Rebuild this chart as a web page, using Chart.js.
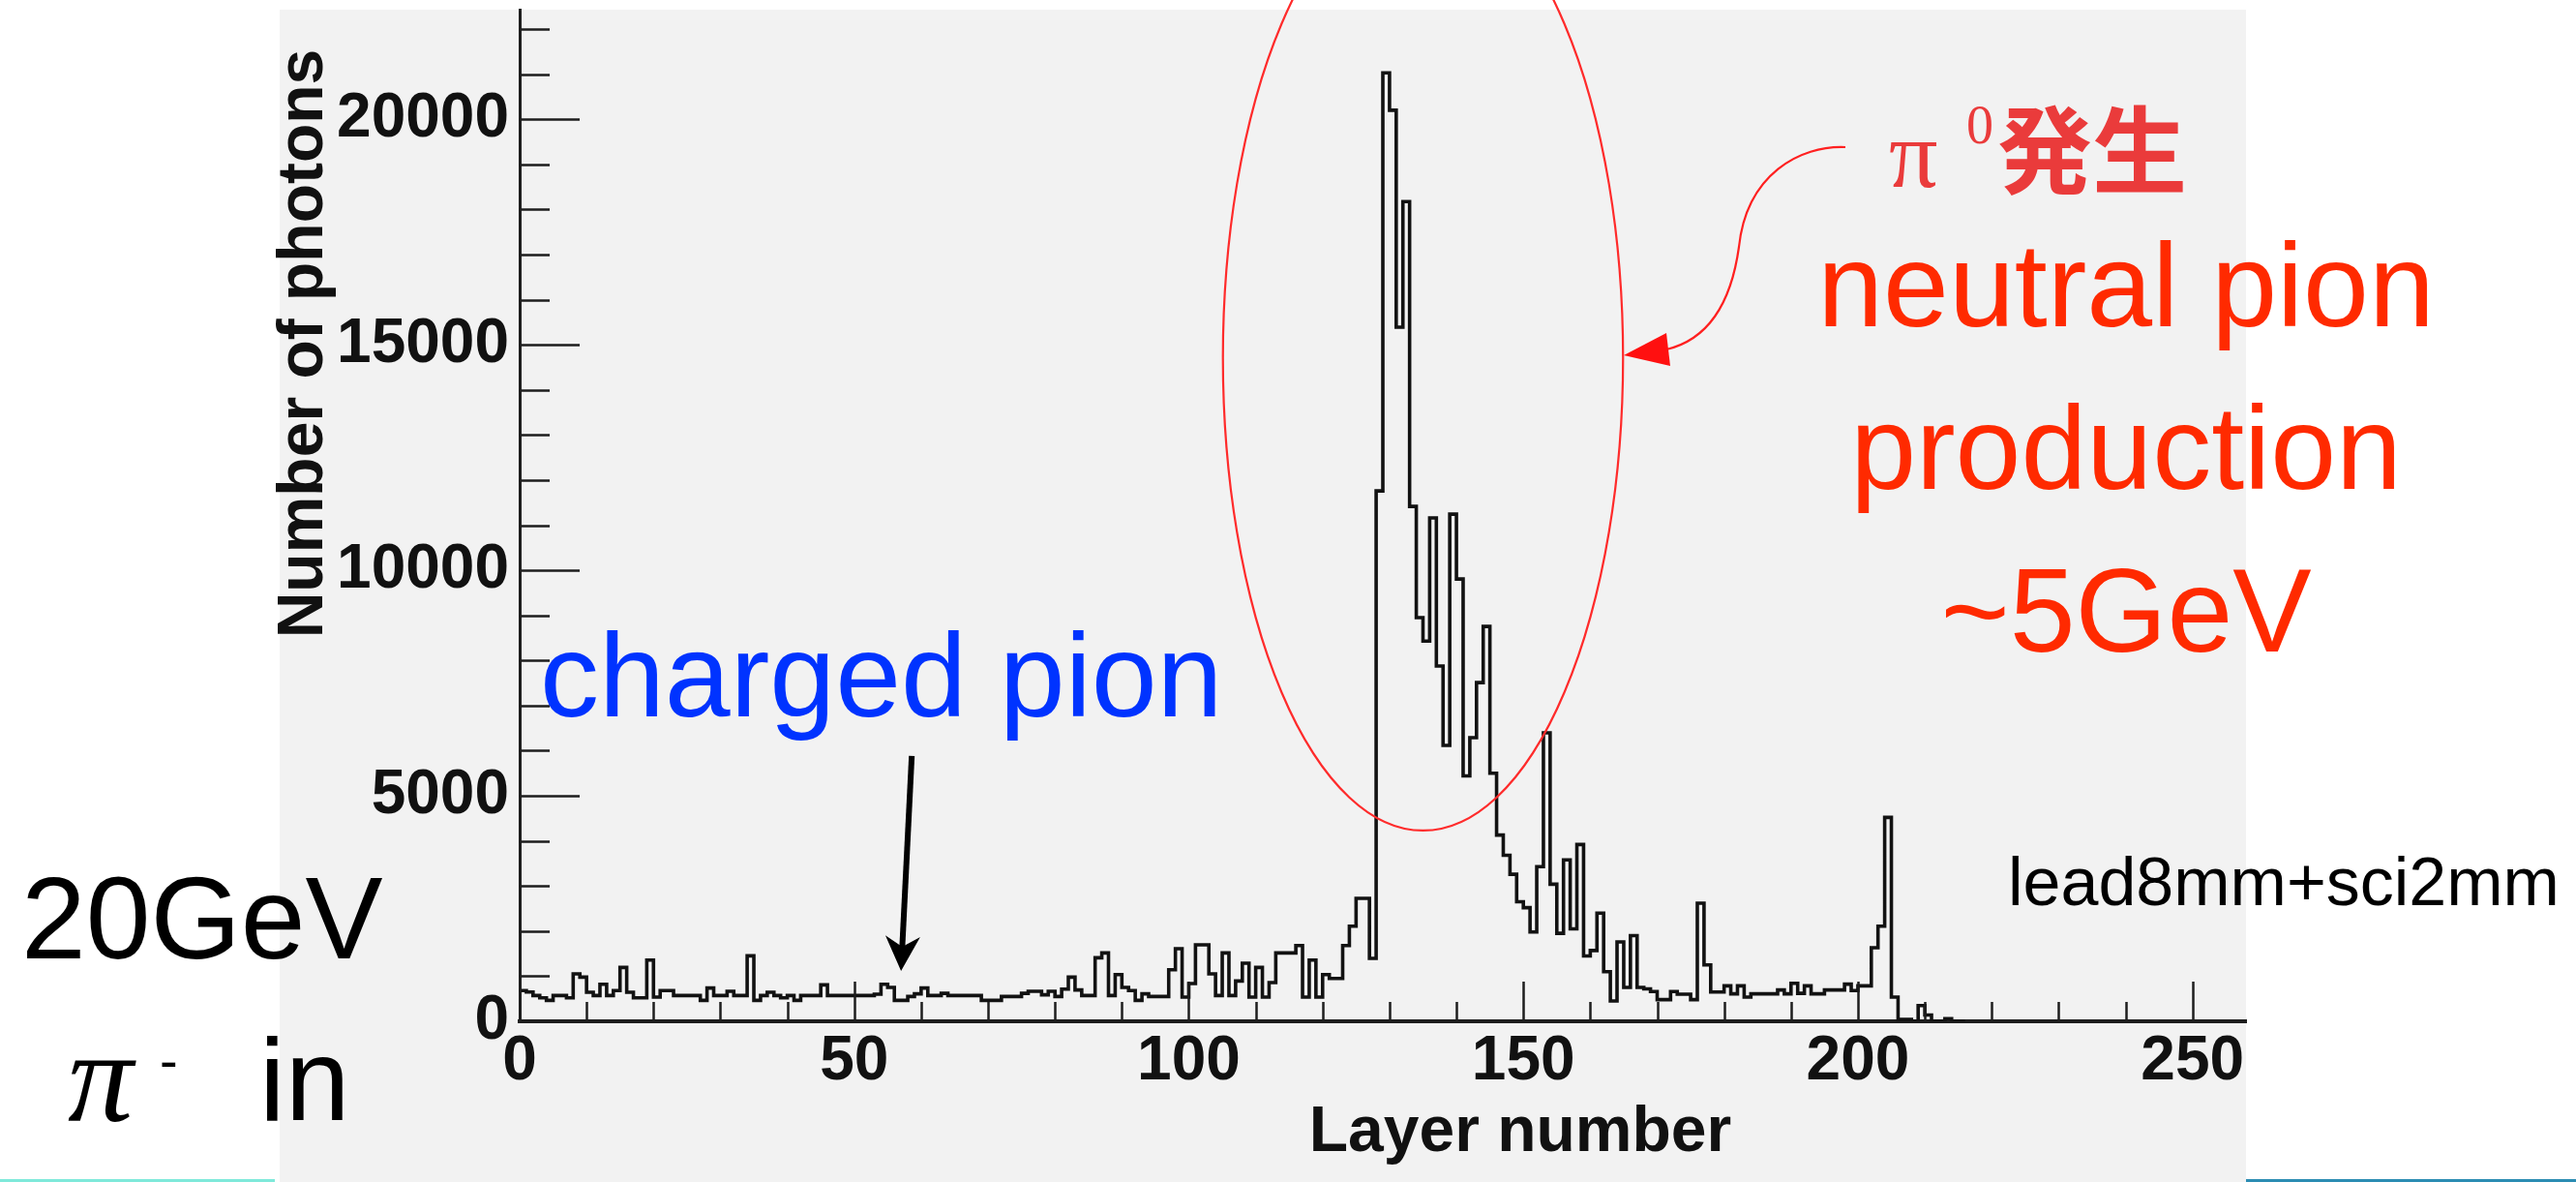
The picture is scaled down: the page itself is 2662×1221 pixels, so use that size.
<!DOCTYPE html>
<html><head><meta charset="utf-8">
<script src="https://cdn.jsdelivr.net/npm/chart.js@4.4.1/dist/chart.umd.min.js"></script>
<style>html,body{margin:0;padding:0;background:#fff;overflow:hidden}canvas{display:block}</style>
</head><body>
<canvas id="c" width="2662" height="1221"></canvas>
<script>
// ---------------- DATA ----------------
// Number of photons per layer (bin i covers layer i .. i+1)
const photons = [
  572,680,650,572,520,465,572,572,520,1051,
  980,644,572,822,572,680,1194,644,520,520,
  1359,536,680,680,572,572,572,572,465,737,
  572,572,665,572,572,1452,465,572,644,572,
  520,572,465,572,572,572,808,572,572,572,
  572,572,572,572,600,822,750,465,465,550,
  608,737,572,572,620,572,572,572,572,572,
  465,465,465,550,550,550,620,665,665,587,
  665,550,715,980,694,572,572,1409,1516,572,
  1037,750,680,465,608,550,550,550,1144,1609,
  536,837,1695,1695,1051,572,1516,572,894,1287,
  536,1194,536,858,1516,1516,1516,1680,536,1359,
  536,1037,950,950,1680,2110,2725,2725,1395,11760,
  21030,20200,15390,18175,11416,8950,8430,11160,7876,6116,
  11245,9807,5440,6288,7510,8755,5500,4130,3680,3260,
  2650,2520,1980,3430,6395,3040,1950,3580,2050,3920,
  1450,1570,2400,1100,450,1760,750,1900,750,720,
  660,480,480,660,600,600,480,2620,1250,650,
  650,787,608,787,536,608,608,608,608,694,
  608,844,620,787,608,608,694,694,694,823,
  680,787,787,1631,2110,4520,536,40,40,0,
  350,140,0,0,60,0
];
const xRange = [0, 258];
const yRange = [0, 22430];
const xTickValues = [0, 50, 100, 150, 200, 250];
const xTickLabels = ['0', '50', '100', '150', '200', '250'];
const yTickValues = [0, 5000, 10000, 15000, 20000];
const yTickLabels = ['0', '5000', '10000', '15000', '20000'];
const xMinorStep = 10;
const yMinorStep = 1000;
const xTitle = 'Layer number';
const yTitle = 'Number of photons';

// annotation anchors in data units (layer, photons)
const ellipseCenter = [135.0, 14706];
const ellipseRadii = [29.9, 10477];
const blackArrowTail = [58.6, 5882];
const blackArrowTip = [57.0, 1116];

// ---------------- LAYOUT / STYLE ----------------
const PANEL = {left: 289, top: 10, right: 2321, bottom: 1221};
const TICK_FONT = {family: 'Liberation Sans, Arial, sans-serif', weight: 'bold', size: 64};

const points = photons.map((v, i) => ({x: i, y: v}));
points.push({x: photons.length, y: 0});

function drawText(ctx, s, x, y, font, color, align) {
  ctx.font = font; ctx.fillStyle = color; ctx.textAlign = align || 'left'; ctx.textBaseline = 'alphabetic';
  ctx.fillText(s, x, y);
}

const rootStyle = {
  id: 'rootStyle',
  beforeDraw(chart) {
    const ctx = chart.ctx;
    ctx.save();
    ctx.fillStyle = '#f2f2f2';
    ctx.fillRect(PANEL.left, PANEL.top, PANEL.right - PANEL.left, PANEL.bottom - PANEL.top);
    // slide decoration lines at the bottom
    ctx.fillStyle = '#7fe9da';
    ctx.fillRect(0, 1218, PANEL.left - 5, 3);
    ctx.fillStyle = '#2c8db3';
    ctx.fillRect(PANEL.right, 1218, 2662 - PANEL.right, 3);
    ctx.restore();
  },
  afterDraw(chart) {
    const {ctx, chartArea: a} = chart;
    const xs = chart.scales.x, ys = chart.scales.y;
    const X = v => xs.getPixelForValue(v), Y = v => ys.getPixelForValue(v);
    ctx.save();
    // inward ROOT-style ticks
    ctx.strokeStyle = '#1e1e1e'; ctx.lineWidth = 2.5;
    for (let v = yRange[0]; v <= yRange[1]; v += yMinorStep) {
      const p = Math.round(Y(v)) + 0.5;
      const len = yTickValues.includes(v) ? 62 : 31;
      ctx.beginPath(); ctx.moveTo(a.left, p); ctx.lineTo(a.left + len, p); ctx.stroke();
    }
    for (let v = xRange[0]; v <= xRange[1]; v += xMinorStep) {
      const p = Math.round(X(v)) + 0.5;
      const len = xTickValues.includes(v) ? 41 : 20;
      ctx.beginPath(); ctx.moveTo(p, a.bottom); ctx.lineTo(p, a.bottom - len); ctx.stroke();
    }
    // axis titles
    drawText(ctx, xTitle, 1571, 1189, 'bold 66px "Liberation Sans", Arial, sans-serif', '#111', 'center');
    ctx.save();
    ctx.translate(333, 355); ctx.rotate(-Math.PI / 2);
    drawText(ctx, yTitle, 0, 0, 'bold 66px "Liberation Sans", Arial, sans-serif', '#111', 'center');
    ctx.restore();

    // red ellipse
    const cx = X(ellipseCenter[0]), cy = Y(ellipseCenter[1]);
    const rx = X(ellipseCenter[0] + ellipseRadii[0]) - cx;
    const ry = cy - Y(ellipseCenter[1] + ellipseRadii[1]);
    ctx.strokeStyle = '#ff2b2b'; ctx.lineWidth = 2.2;
    ctx.beginPath(); ctx.ellipse(cx, cy, rx, ry, 0, 0, Math.PI * 2); ctx.stroke();

    // red curved connector with arrowhead
    ctx.strokeStyle = '#ff2020'; ctx.lineWidth = 2.2;
    ctx.beginPath();
    ctx.moveTo(1907, 152);
    ctx.bezierCurveTo(1860, 150, 1805, 180, 1797, 255);
    ctx.bezierCurveTo(1788, 320, 1760, 352, 1722, 361);
    ctx.stroke();
    ctx.fillStyle = '#ff1010';
    ctx.beginPath(); ctx.moveTo(1678, 367); ctx.lineTo(1722, 344); ctx.lineTo(1726, 378); ctx.closePath(); ctx.fill();

    // black arrow
    const tx = X(blackArrowTail[0]), ty = Y(blackArrowTail[1]);
    const hx = X(blackArrowTip[0]), hy = Y(blackArrowTip[1]);
    const dx = hx - tx, dy = hy - ty, L = Math.hypot(dx, dy), ux = dx / L, uy = dy / L;
    const nx = -uy, ny = ux;
    const bx = hx - ux * 36, by = hy - uy * 36;
    ctx.strokeStyle = '#000'; ctx.lineWidth = 6;
    ctx.beginPath(); ctx.moveTo(tx, ty); ctx.lineTo(hx - ux * 24, hy - uy * 24); ctx.stroke();
    ctx.fillStyle = '#000';
    ctx.beginPath();
    ctx.moveTo(hx, hy);
    ctx.lineTo(bx + nx * 18, by + ny * 18);
    ctx.lineTo(hx - ux * 25, hy - uy * 25);
    ctx.lineTo(bx - nx * 18, by - ny * 18);
    ctx.closePath(); ctx.fill();

    // texts
    const SANS = '"Liberation Sans", Arial, sans-serif';
    drawText(ctx, 'charged pion', 558, 740, '122px ' + SANS, '#0033ff');
    drawText(ctx, 'neutral pion', 2197, 337, '122px ' + SANS, '#ff2a00', 'center');
    drawText(ctx, 'production', 2197, 505, '122px ' + SANS, '#ff2a00', 'center');
    drawText(ctx, '~5GeV', 2197, 673, '122px ' + SANS, '#ff2a00', 'center');
    drawText(ctx, 'π', 1952, 193, '100px "Liberation Serif", serif', '#ea3b3b');
    drawText(ctx, '0', 2032, 148, '56px "Liberation Serif", serif', '#ea3b3b');
    drawText(ctx, '発生', 2064, 192, 'bold 98px "Noto Sans CJK JP", sans-serif', '#ea3b3b');
    drawText(ctx, '20GeV', 22, 990, '120px ' + SANS, '#000');
    drawText(ctx, 'π', 70, 1158, 'italic 135px "Liberation Serif", serif', '#000');
    drawText(ctx, '-', 165, 1115, '56px ' + SANS, '#000');
    drawText(ctx, 'in', 268, 1157, '120px ' + SANS, '#000');
    drawText(ctx, 'lead8mm+sci2mm', 2075, 935, '70px ' + SANS, '#000');
    ctx.restore();
  }
};

new Chart(document.getElementById('c'), {
  type: 'line',
  data: {datasets: [{
    data: points, stepped: 'after', borderColor: '#121212', borderWidth: 3.6,
    pointRadius: 0, fill: false, tension: 0
  }]},
  options: {
    responsive: false, animation: false, devicePixelRatio: 1,
    layout: {padding: {top: PANEL.top, right: 2662 - PANEL.right, left: 0, bottom: 0}},
    plugins: {legend: {display: false}, tooltip: {enabled: false}},
    scales: {
      x: {
        type: 'linear', min: xRange[0], max: xRange[1],
        afterFit: s => { s.height = 166; s.paddingLeft = 0; s.paddingRight = 0; s.paddingTop = 0; s.paddingBottom = 0; },
        afterBuildTicks: s => { s.ticks = xTickValues.map(v => ({value: v})); },
        ticks: {callback: (v, i) => xTickLabels[i], font: TICK_FONT, color: '#111', padding: 4, maxRotation: 0, autoSkip: false},
        grid: {display: false, drawTicks: false},
        border: {display: true, color: '#1e1e1e', width: 4}
      },
      y: {
        type: 'linear', min: yRange[0], max: yRange[1],
        afterFit: s => { s.width = 537; s.paddingLeft = 0; s.paddingRight = 0; s.paddingTop = 0; s.paddingBottom = 0; },
        afterBuildTicks: s => { s.ticks = yTickValues.map(v => ({value: v})); },
        ticks: {callback: (v, i) => yTickLabels[i], font: TICK_FONT, color: '#111', padding: 11, autoSkip: false},
        grid: {display: false, drawTicks: false},
        border: {display: true, color: '#1e1e1e', width: 3}
      }
    }
  },
  plugins: [rootStyle]
});
</script>
</body></html>
